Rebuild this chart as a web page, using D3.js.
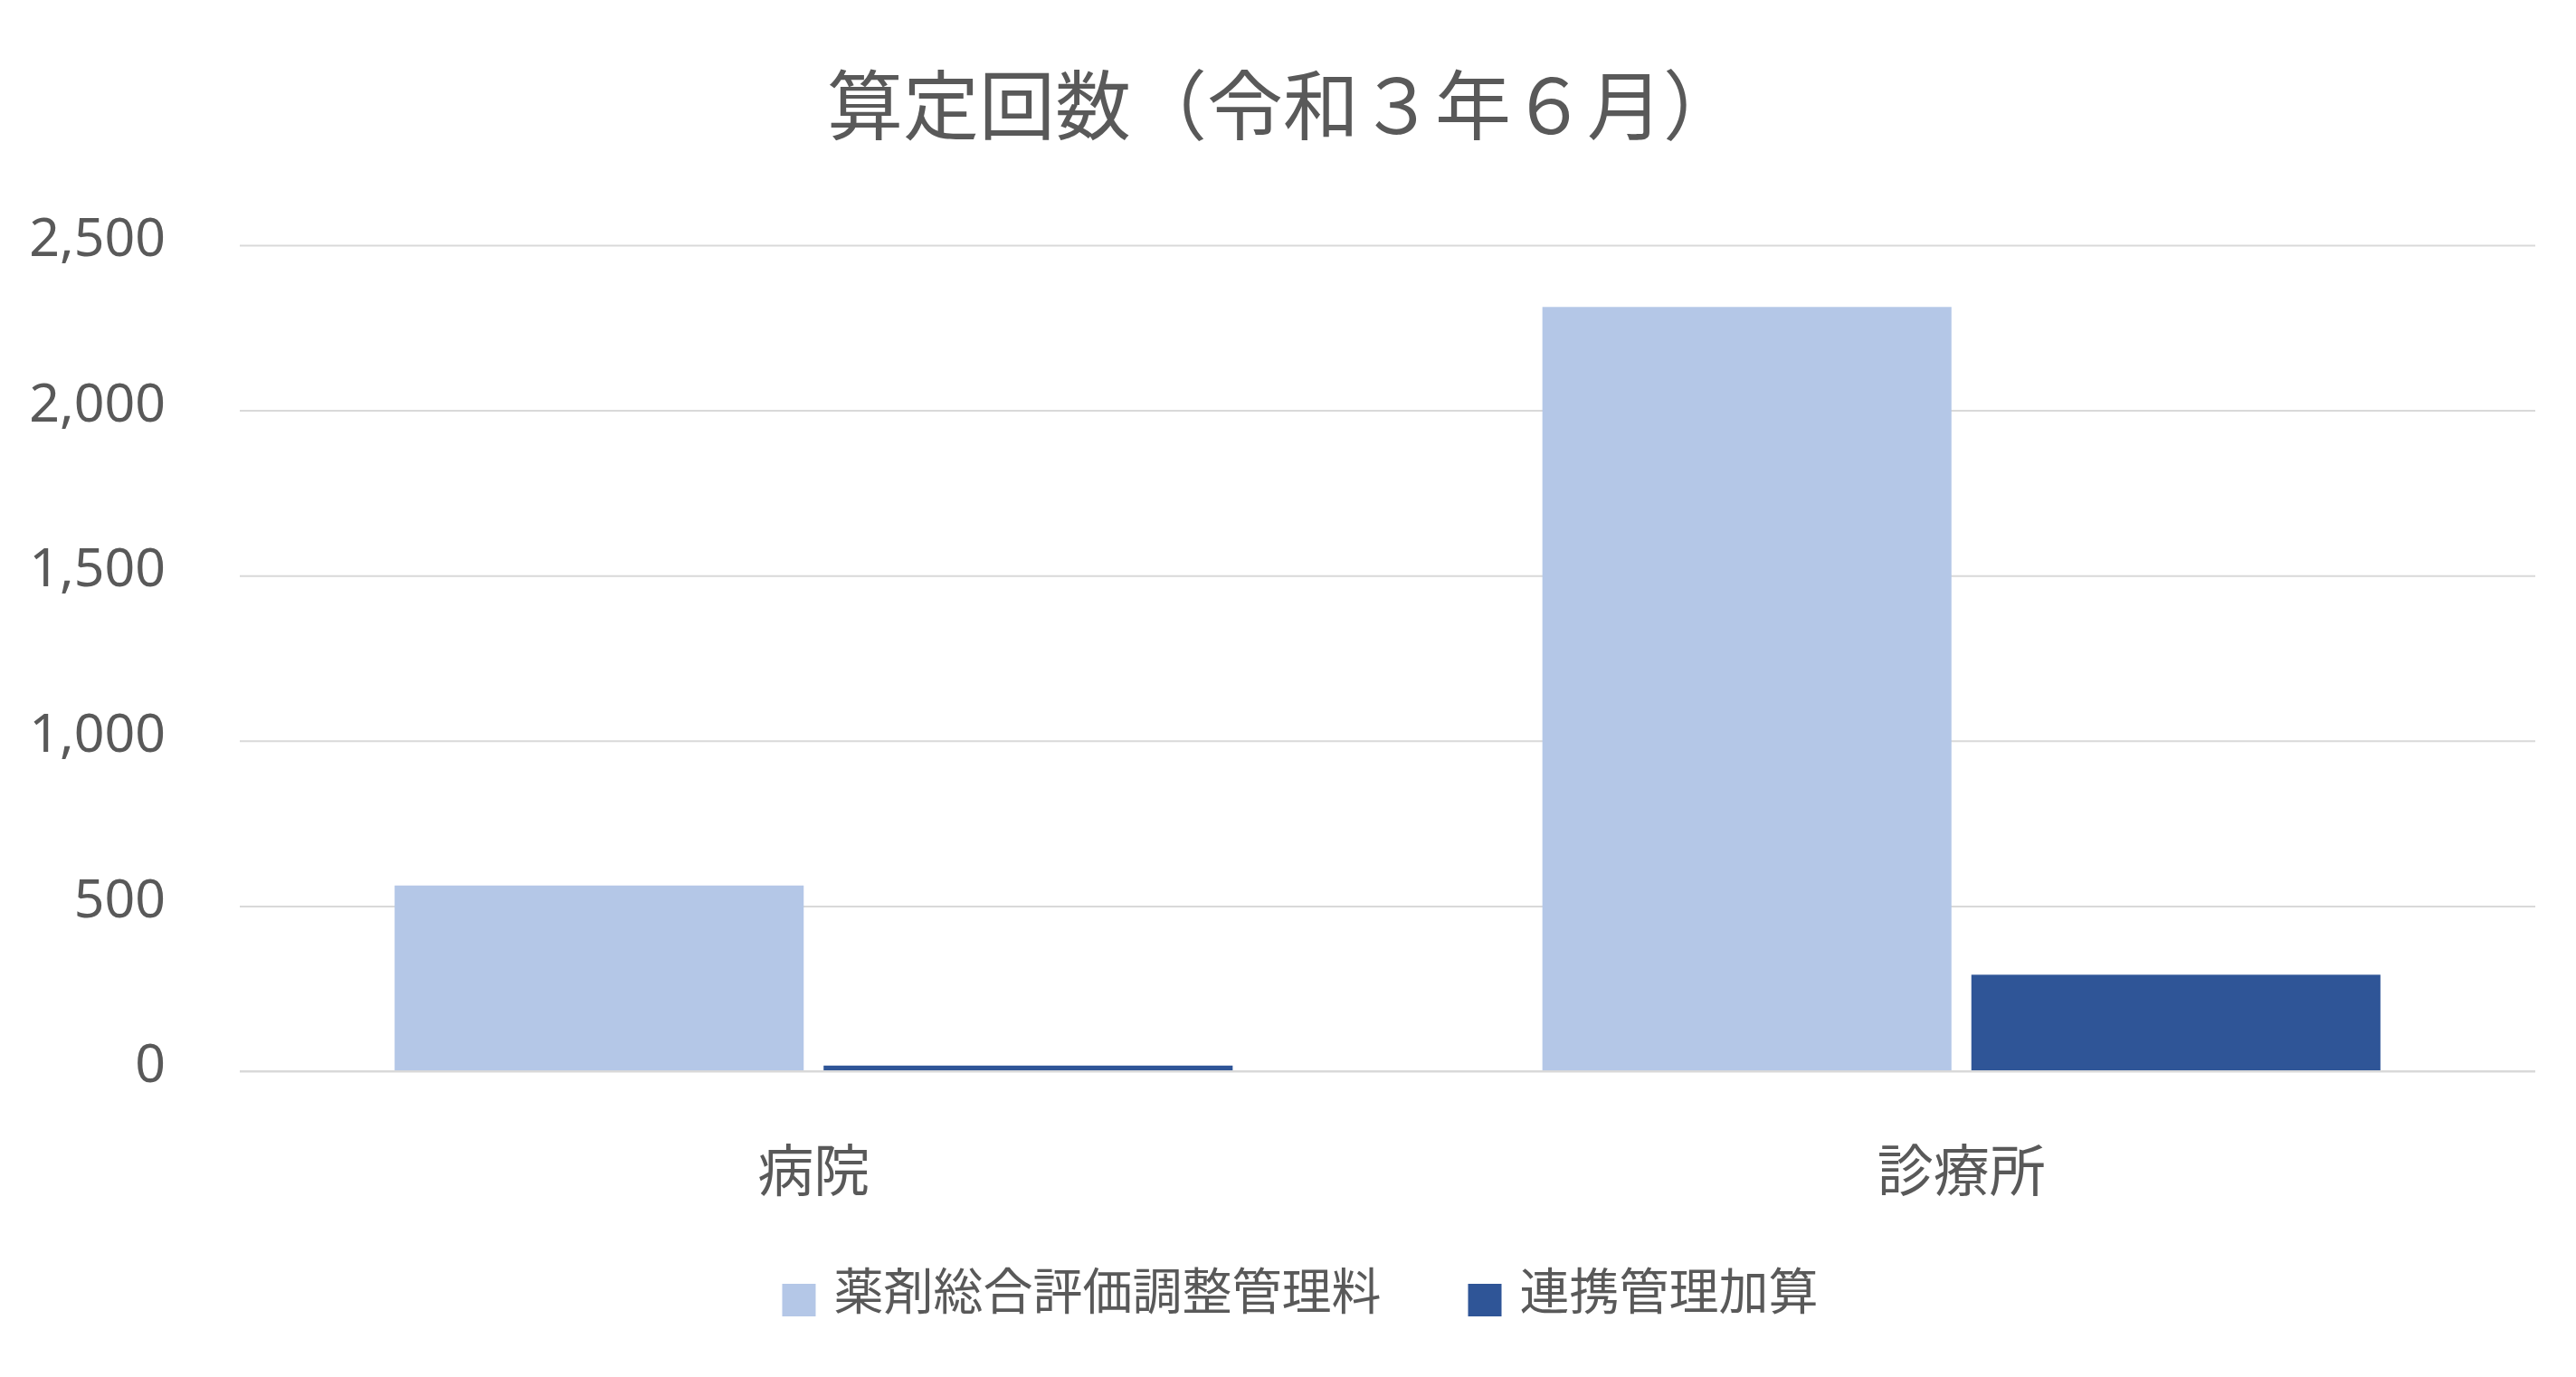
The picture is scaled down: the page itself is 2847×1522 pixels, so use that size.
<!DOCTYPE html>
<html>
<head>
<meta charset="utf-8">
<script src="https://cdn.jsdelivr.net/npm/d3@7"></script>
<style>
    html, body { margin: 0; padding: 0; background: #ffffff; }
    svg { display: block; }
</style>
</head>
<body>
<div id="chart-container"></div>
<script>
// data
const categories = ["病院", "診療所"];
const seriesNames = ["薬剤総合評価調整管理料", "連携管理加算"];
const seriesValues = [
    [562, 2313],
    [17, 292]
];
const yTicks = [0, 500, 1000, 1500, 2000, 2500];
const titleText = "算定回数（令和３年６月）";

const seriesColors = ["#b4c7e7", "#2f5597"];
const textColor = "#595959";
const gridColor = "#d9d9d9";
const cjkFont = "'Noto Sans CJK JP', 'Noto Sans CJK SC', sans-serif";
const numFont = "'Noto Sans', 'Open Sans', sans-serif";

const width = 2847;
const height = 1522;
const plot = {left: 265, right: 2802, top: 271, bottom: 1184};

const svg = d3.select("#chart-container").append("svg")
    .attr("width", width)
    .attr("height", height);

const xScale = d3.scaleBand()
    .domain(categories)
    .range([plot.left, plot.right])
    .padding(0);

const xInner = d3.scaleBand()
    .domain(seriesNames)
    .range([0, xScale.bandwidth()])
    .paddingInner(0.0464)
    .paddingOuter(0.361);

const yScale = d3.scaleLinear()
    .domain([0, 2500])
    .range([plot.bottom, plot.top]);

// title
svg.append("text")
    .attr("x", 1418)
    .attr("y", 148)
    .attr("text-anchor", "middle")
    .attr("fill", textColor)
    .style("font-family", cjkFont)
    .style("font-size", "84px")
    .text(titleText);

// gridlines and y labels
const yAxis = d3.axisLeft(yScale)
    .tickValues(yTicks)
    .tickSize(-(plot.right - plot.left))
    .tickPadding(82)
    .tickFormat(d3.format(","));

const yAxisG = svg.append("g")
    .attr("transform", `translate(${plot.left},0)`)
    .call(yAxis);

yAxisG.select(".domain").remove();
yAxisG.selectAll(".tick line")
    .attr("stroke", gridColor)
    .attr("stroke-width", 2);
yAxisG.selectAll(".tick text")
    .attr("fill", textColor)
    .attr("dy", 11.6)
    .style("dominant-baseline", "auto")
    .style("font-family", numFont)
    .style("font-size", "59px");

// bars
const barData = [];
seriesNames.forEach((s, i) => {
    categories.forEach((c, j) => {
        barData.push({category: c, series: s, value: seriesValues[i][j], color: seriesColors[i]});
    });
});

svg.append("g")
    .selectAll("rect")
    .data(barData)
    .enter()
    .append("rect")
    .attr("x", d => xScale(d.category) + xInner(d.series))
    .attr("y", d => yScale(d.value))
    .attr("width", xInner.bandwidth())
    .attr("height", d => yScale(0) - yScale(d.value))
    .attr("fill", d => d.color);

// baseline over bar bottoms
svg.append("line")
    .attr("x1", plot.left)
    .attr("x2", plot.right)
    .attr("y1", yScale(0))
    .attr("y2", yScale(0))
    .attr("stroke", gridColor)
    .attr("stroke-width", 2);

// category labels
const xAxis = d3.axisBottom(xScale).tickSize(0).tickPadding(0);
const xAxisG = svg.append("g")
    .attr("transform", `translate(0,${plot.bottom})`)
    .call(xAxis);
xAxisG.select(".domain").remove();
xAxisG.selectAll(".tick text")
    .attr("fill", textColor)
    .attr("dy", 0)
    .attr("y", 133)
    .style("font-family", cjkFont)
    .style("font-size", "62px");

// legend
const legendG = svg.append("g");
const swatch = 37;
const swatchGap = 20;
const itemGap = 96;

const items = legendG.selectAll("g")
    .data(seriesNames)
    .enter()
    .append("g");

items.append("rect")
    .attr("width", swatch)
    .attr("height", 36)
    .attr("y", 1419)
    .attr("fill", (d, i) => seriesColors[i]);

items.append("text")
    .attr("x", swatch + swatchGap)
    .attr("y", 1447)
    .attr("fill", textColor)
    .style("font-family", cjkFont)
    .style("font-size", "55px")
    .text(d => d);

const itemWidths = [];
items.each(function () {
    itemWidths.push(swatch + swatchGap + d3.select(this).select("text").node().getComputedTextLength());
});
const totalWidth = d3.sum(itemWidths) + itemGap * (itemWidths.length - 1);
let legendX = 1437 - totalWidth / 2;
items.each(function (d, i) {
    d3.select(this).attr("transform", `translate(${legendX},0)`);
    legendX += itemWidths[i] + itemGap;
});
</script>
</body>
</html>
